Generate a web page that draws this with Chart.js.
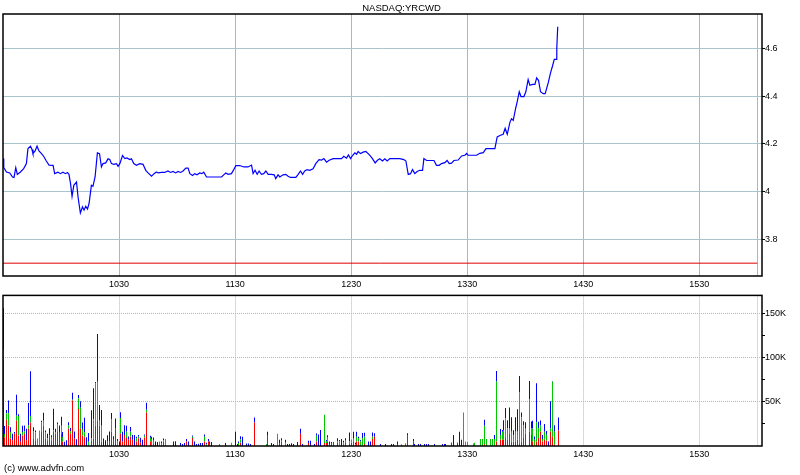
<!DOCTYPE html>
<html>
<head>
<meta charset="utf-8">
<script src="https://cdn.jsdelivr.net/npm/chart.js@4/dist/chart.umd.min.js"></script>
<style>
  body { margin: 0; background: #fff; width: 800px; height: 475px; position: relative; overflow: hidden; }
  canvas { position: absolute; left: 0; }
  #price { top: 0; }
  #volume { top: 290px; }
  #credit { position: absolute; left: 4px; top: 462px; font: 9.5px "Liberation Sans", Arial, sans-serif; color: #000; white-space: nowrap; }
</style>
</head>
<body>
<canvas id="price" width="800" height="290"></canvas>
<canvas id="volume" width="800" height="185"></canvas>
<div id="credit">(c) www.advfn.com</div>
<script>
const symbol = 'NASDAQ:YRCWD';

// price line, time in minutes after 09:30
const priceTimes = [0,0.4,1.8,3.5,4.9,5.7,6.6,7.4,9.0,10.7,
  12.1,12.9,14.2,15.0,15.5,16.6,17.6,18.6,19.9,21.0,
  22.4,23.8,25.9,26.7,28.4,29.7,31.0,32.3,33.3,34.1,
  34.9,35.7,36.6,38.0,38.8,40.0,41.1,41.9,42.8,43.7,
  44.5,45.7,46.5,47.6,48.8,49.9,50.9,51.7,53.1,54.3,
  55.2,56.1,57.3,58.7,59.5,60.4,61.8,63.0,64.1,65.5,
  66.4,67.6,69.0,70.7,72.4,73.8,75.0,76.8,78.1,79.3,
  80.2,81.9,83.6,85.3,86.6,87.9,89.3,90.5,91.8,93.1,
  94.5,95.7,96.6,98.0,99.1,100.3,101.7,102.8,103.8,105.2,
  113.0,114.1,115.2,116.4,118.1,119.3,120.4,122.4,124.5,126.7,
  128.5,129.3,130.3,131.4,132.4,133.6,134.8,135.9,137.1,138.8,
  140.2,141.0,142.2,143.1,144.8,146.2,147.4,148.6,151.4,152.6,
  153.8,154.9,156.0,157.2,158.6,160.3,161.7,163.4,164.7,165.9,
  167.3,168.6,170.7,175.0,176.2,177.6,178.6,179.7,180.7,181.9,
  182.8,183.6,184.8,186.2,187.6,188.8,190.0,191.0,192.4,193.6,
  194.8,196.2,197.4,198.6,200.0,205.2,207.2,208.3,209.5,210.7,
  211.7,212.9,214.1,215.5,216.9,217.6,219.0,222.8,224.1,225.5,
  226.7,228.4,229.6,230.7,231.9,233.1,235.3,237.1,238.8,239.7,
  240.5,244.8,246.5,248.3,249.7,254.3,255.5,256.9,258.6,259.6,
  260.7,262.1,262.9,263.8,265.0,265.8,266.9,267.8,269.3,270.3,
  271.5,272.4,273.8,275.0,275.9,276.9,277.9,279.3,280.3,281.9,
  283.1,284.1,285.0,285.9,286.3,286.8];
const prices = [4.138,4.10,4.082,4.078,4.061,4.059,4.10,4.072,4.082,4.096,
  4.117,4.18,4.19,4.176,4.159,4.17,4.19,4.17,4.159,4.148,
  4.128,4.111,4.11,4.075,4.081,4.075,4.081,4.075,4.08,4.072,
  4.034,3.98,4.026,4.04,3.977,3.91,3.936,3.922,3.938,3.927,
  3.95,4.026,4.022,4.061,4.162,4.159,4.103,4.117,4.12,4.137,
  4.134,4.117,4.114,4.117,4.106,4.117,4.151,4.138,4.141,4.134,
  4.137,4.117,4.11,4.117,4.114,4.089,4.078,4.064,4.075,4.082,
  4.078,4.08,4.08,4.086,4.08,4.084,4.078,4.084,4.08,4.086,
  4.098,4.098,4.075,4.067,4.075,4.07,4.078,4.075,4.081,4.061,
  4.061,4.07,4.078,4.072,4.075,4.092,4.109,4.109,4.103,4.103,
  4.111,4.075,4.089,4.072,4.086,4.072,4.075,4.086,4.072,4.072,
  4.07,4.054,4.07,4.061,4.07,4.072,4.064,4.059,4.059,4.072,
  4.086,4.072,4.086,4.092,4.089,4.095,4.117,4.134,4.132,4.138,
  4.123,4.131,4.138,4.138,4.148,4.14,4.153,4.138,4.151,4.162,
  4.156,4.168,4.159,4.165,4.168,4.159,4.148,4.138,4.12,4.131,
  4.137,4.128,4.137,4.128,4.138,4.138,4.134,4.128,4.072,4.075,
  4.092,4.075,4.084,4.089,4.089,4.138,4.13,4.13,4.11,4.11,
  4.117,4.121,4.13,4.117,4.119,4.13,4.132,4.149,4.152,4.16,
  4.152,4.152,4.16,4.163,4.18,4.18,4.229,4.235,4.24,4.265,
  4.24,4.291,4.305,4.298,4.347,4.375,4.418,4.398,4.398,4.418,
  4.469,4.445,4.449,4.449,4.476,4.465,4.418,4.41,4.41,4.456,
  4.498,4.526,4.554,4.554,4.6,4.69];
const refLevel = 3.7;

// volume per minute (thousands), split in three coloured parts
const volTimes = [0,1,2,3,4,5,6,7,8,9,10,11,12,13,14,16,17,18,19,20,
  21,22,23,24,25,26,27,28,29,30,31,32,33,34,35,36,37,38,39,40,
  41,42,43,44,46,47,48,49,50,51,52,53,54,55,56,57,58,59,60,61,
  62,63,64,65,66,67,68,69,70,71,72,73,74,76,77,78,79,80,81,82,
  83,84,88,89,92,93,94,95,96,98,99,100,101,102,103,104,105,106,107,108,
  112,115,118,120,121,122,123,124,126,127,128,130,136,137,139,140,142,143,144,146,
  147,148,149,150,152,154,155,158,159,161,162,163,164,166,167,168,169,170,171,173,
  174,175,176,177,179,180,181,182,183,184,185,186,187,189,190,191,192,195,198,201,
  202,204,206,208,209,212,213,215,216,218,219,220,223,227,228,229,232,233,235,236,
  237,238,239,240,243,244,247,248,249,250,252,253,254,255,257,258,259,260,261,262,
  263,264,265,266,267,268,269,270,272,273,274,275,276,277,278,279,280,281,282,283,
  284,285,287];
const volRed = [98,10,29.7,23,8.4,6.6,14,28.6,12,4.8,12,14,6.6,19.4,26.7,8.4,6.6,0,0,15.8,
  23,8.4,6.6,12,6.6,15.8,14,15.8,15.8,14,4.8,0,0,19.4,14,51.6,8.4,0,42,19.4,
  12,10,0,0,6.6,8.4,23,28.6,23,4.8,0,0,4.8,4.8,16,8,20,0,0,14,
  5,12.5,9,7,10.6,7,0,5,8.8,3.7,0,9.5,38,5,0,2.2,0,0,0,0,
  5,0,0,0,0,0,0,5,0,9,0,0,0,0,0,5,0,5,3.3,0,
  0,0,0,0,0,0,3.7,0,0,0,0,26.7,0,12.5,0,0,0,3.3,4.4,0,
  0,0,0,0,0,14,0,3.3,0,0,5,0,0,3.3,3.3,5,2.2,3.3,4.4,3.3,
  0,0,0,3.3,2.2,3.7,4.4,0,5,5,0,0,2.2,0,0,8,10.6,0,0,0,
  0,2.2,0,0,11.7,5,0,0,0,0,0,0,0,0,0,0,4,0,4,0,
  0,0,0,0,0,0,0,0,2,0,0,0,0,5,7,7,7,9,7,14,
  5,5,5,7,3,5,9,14,16,12.5,5,0,5,9,16,5,7,6,0,16,
  10.6,1.5,17.6];
const volGreen = [10,3.7,7.3,14,7.3,0,0,5.5,22,0,3.7,2.6,0,3.7,7.3,8,9,8.4,17.6,11,
  5.5,7.3,1.8,0,3.7,1.8,1.8,9,0,9,5.5,0,0,3.7,2.6,0.7,0,0,12,23.8,
  7.3,5.5,0,4.8,1.8,22,47.6,44,5.5,18,0,0,0,0,14.6,0,0,5,0,17.6,
  0,0,7,0,5.5,0,0,3.7,1.8,0,0,2,3,4.4,8,3.7,0,0,5,3.3,
  1.8,8,0,0,0,0,0,0,0,1.5,0,0,0,0,0,5.5,1.8,0,0,0,
  2.2,0,3.7,0,0,3.3,3.7,0,0,0,0,0,2.2,0,0,0,14,0,1.5,4.4,
  0,0,0,0,0,0,0,0,0,0,6.6,0,0,32,1.8,4.4,0,0,0,1.8,
  5,0,4.4,2.6,3,3.7,3.7,1.8,5.5,3.7,5.1,8.8,8.4,0,0,2.6,0,0,0,0,
  0,0,2,3,0,0,0,0,0,0,0,0,0,0,0,0,0,0,0,0,
  0,38,5,4.4,2.9,3.7,8,8,21,8,8,8,8,68,5.5,9,11,22,13,5.5,
  11,7.3,11,9,57.5,27.5,14.6,5.5,36.6,7.3,14.6,7,22,11,7.3,3,9,6.6,0,3.7,
  62,14.6,0];
const volBlue = [48,9,3.7,14.6,5.5,7.3,1.8,24,2,9,7.3,6.6,12.8,25.6,50.5,4.8,1.8,0,0,1.8,
  9,1.8,5.5,8,1.8,24.5,3.7,1.8,7.3,10,5.5,4.8,6.6,3.7,3.7,8,8,7.7,3.7,7.3,
  7.3,16.5,10,10,32,35,1.8,54,18,18,8.4,6.6,7.3,11.7,6.6,3,11,3,5,6.6,
  11,11,7,3.7,5.5,5.5,12.5,1.8,1.8,5.5,7,1.5,8,2.2,2.6,3.7,5,4.4,0,1.8,
  1.8,0,5,5.5,3.3,2.2,3.3,3,5,1.5,5,2.2,2.6,3.3,3.3,2.6,2,3,1.8,4.4,
  0,3.3,0,16,2.2,1.8,3.7,10.6,2.9,2.9,2.2,5.5,0,3.7,3.3,2.2,0,3.7,3,2.6,
  2.2,2.2,3,2.2,4.4,5.5,2.2,2.6,5.9,2.2,2.6,13,18,0,1.8,2.9,3,1.1,0,3.7,
  1.8,8,1.5,2.9,10,0,8,1.8,5.5,1.8,1.8,6,4.4,5,5,4.8,3.7,2.2,2.2,2.2,
  2.2,3,0,0,2.6,3,2.2,2.2,2.2,2.2,2.2,2.2,2.2,2.2,2.2,2.2,0,12.5,0,16,
  7,0,0,0,0,0,0,0,6.6,0,0,0,4.4,12,6.6,2,11,12,9,24,
  16.5,5.5,16.5,25.6,18.7,5.5,4.4,7.3,21,8,9,3.7,44,7.3,5.5,4.4,9,4.4,5,31,
  0.7,7.3,14.7];

const timeTicks = [60, 120, 180, 240, 300, 360, 390];
const timeLabels = ['1030', '1130', '1230', '1330', '1430', '1530', ''];
const priceTicks = [3.8, 4.0, 4.2, 4.4, 4.6];
const volTicks = [25, 50, 75, 100, 125, 150];

Chart.defaults.font.family = '"Liberation Sans", Arial, sans-serif';
Chart.defaults.font.size = 9;
Chart.defaults.color = '#000';
Chart.defaults.animation = false;

// black box round the plot area
const frame = {
  id: 'frame',
  afterDraw(chart) {
    const { ctx, chartArea: a } = chart;
    ctx.save();
    ctx.strokeStyle = '#000';
    ctx.lineWidth = 1.5;
    ctx.strokeRect(a.left, a.top, a.right - a.left, a.bottom - a.top);
    ctx.restore();
  }
};

// keep the 1px volume bars on whole pixels so they stay sharp
const snapBars = {
  id: 'snapBars',
  beforeDatasetsDraw(chart) {
    chart.data.datasets.forEach((d, i) => {
      chart.getDatasetMeta(i).data.forEach(el => { el.x = Math.floor(el.x) + 0.5; });
    });
  }
};

function timeAxis(height, gridColor, dash) {
  return {
    type: 'linear',
    min: 0,
    max: 392.4,
    offset: false,
    stacked: true,
    afterBuildTicks: s => { s.ticks = timeTicks.map(v => ({ value: v })); },
    afterFit: s => { s.height = height; },
    ticks: { autoSkip: false, maxRotation: 0, padding: 3, callback: (v, i) => timeLabels[i] },
    grid: { color: gridColor, drawTicks: false, offset: false },
    border: { display: false, dash: dash }
  };
}

new Chart(document.getElementById('price'), {
  type: 'line',
  data: {
    datasets: [
      {
        data: priceTimes.map((t, i) => ({ x: t, y: prices[i] })),
        borderColor: '#0000ff',
        borderWidth: 1.2,
        pointRadius: 0,
        tension: 0
      },
      {
        data: [{ x: 0, y: refLevel }, { x: 390, y: refLevel }],
        borderColor: '#e00000',
        borderWidth: 1,
        pointRadius: 0
      }
    ]
  },
  options: {
    responsive: false,
    layout: { padding: { left: 3, top: 0, right: 0, bottom: 0 } },
    plugins: {
      legend: { display: false },
      tooltip: { enabled: false },
      title: {
        display: true,
        text: symbol,
        color: '#000',
        font: { size: 9.5, weight: 'normal', lineHeight: 1 },
        padding: { top: 4, bottom: 0.5 }
      }
    },
    scales: {
      x: timeAxis(14, '#b4b4b4', []),
      y: {
        position: 'right',
        min: 3.6463,
        max: 4.7437,
        afterBuildTicks: s => { s.ticks = priceTicks.map(v => ({ value: v })); },
        afterFit: s => { s.width = 38; },
        ticks: { padding: 0, callback: v => String(+v.toFixed(1)) },
        grid: { color: '#a8c4cc', tickColor: '#000', tickLength: 3 },
        border: { display: false }
      }
    }
  },
  plugins: [frame]
});

const barSet = (vals, colour) => ({
  data: volTimes.map((t, i) => ({ x: t, y: vals[i] })),
  backgroundColor: colour,
  borderWidth: 0,
  inflateAmount: 0,
  barThickness: 1
});

new Chart(document.getElementById('volume'), {
  type: 'bar',
  data: {
    datasets: [
      barSet(volRed, '#ff0000'),
      barSet(volGreen, '#00c800'),
      barSet(volBlue, '#0000ff')
    ]
  },
  options: {
    responsive: false,
    layout: { padding: { left: 3, top: 1, right: 0, bottom: 0 } },
    plugins: { legend: { display: false }, tooltip: { enabled: false } },
    scales: {
      x: timeAxis(29, '#b4b4b4', [1, 1]),
      y: {
        position: 'right',
        stacked: true,
        min: 0,
        max: 170.4,
        afterBuildTicks: s => { s.ticks = volTicks.map(v => ({ value: v })); },
        afterFit: s => { s.width = 38; },
        ticks: { padding: 0, callback: v => (v % 50 === 0 ? v + 'K' : '') },
        grid: {
          color: c => (c.tick && c.tick.value % 50 !== 0 ? 'rgba(0,0,0,0)' : '#b4b8b4'),
          tickColor: '#000',
          tickLength: 3
        },
        border: { display: false, dash: [1, 1] }
      }
    }
  },
  plugins: [frame, snapBars]
});
</script>
</body>
</html>
